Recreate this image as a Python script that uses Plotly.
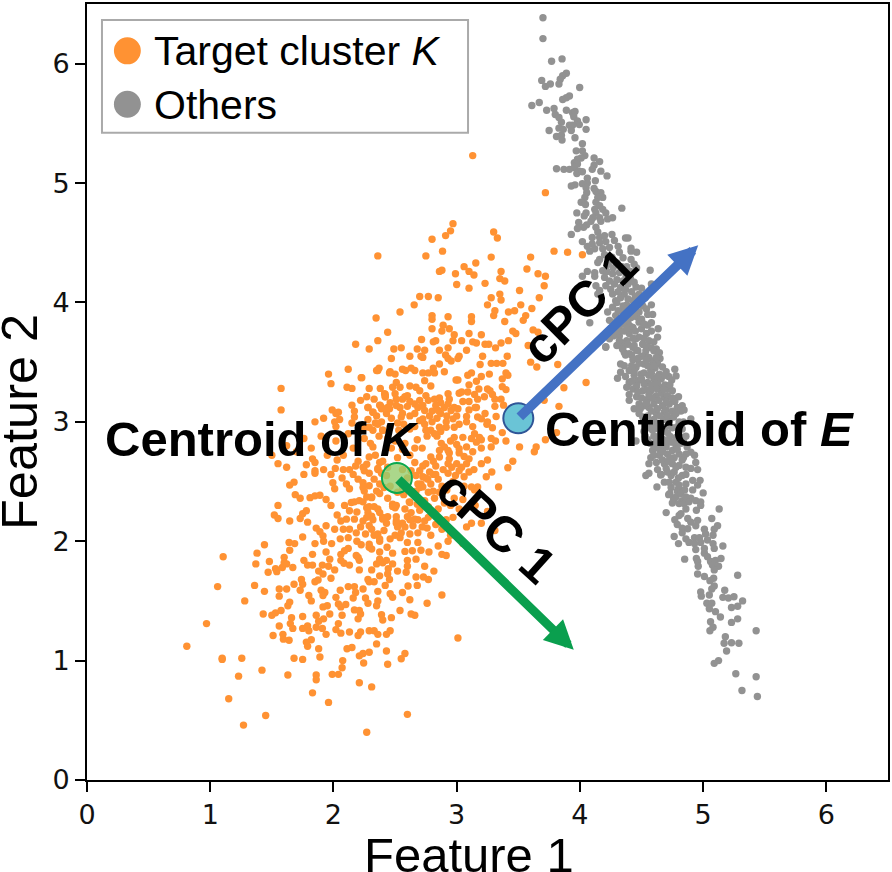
import plotly.graph_objects as go

# Scatter readings, grouped by the part of the plane they sit in: (feature 1, feature 2)
target_low = [
    (.81,1.12),(.97,1.31),(1.06,1.62),(1.105,1.87),(1.097,1.02),(1.097,1.01),(1.256,1.02),(1.23,.87),(1.15,.68),(1.27,.46),
    (1.45,.54),(1.42,.92),(1.28,1.5),(1.36,1.63),(1.44,1.58),(1.37,1.81),(1.38,1.9),(1.44,1.97),(1.47,1.74),(1.48,1.83),
    (1.43,1.39),(1.5,1.38),(1.53,1.4),(1.575,1.42),(1.56,1.29),(1.51,1.21),(1.59,1.22),(1.594,1.18),(1.64,1.17),(1.63,.88),
    (1.68,1.02),(1.75,1.01),(1.86,.88),(1.86,.84),(1.83,.73),(1.96,.65),(2.27,.4),(2.6,.55),(2.21,.815),(2.31,.78),
    (1.99,.885),(2.04,.885),(2.07,.94),(2.075,1.0),(1.89,1.03),(1.88,1.1),(1.78,1.155),(1.79,1.12),(1.82,1.175),(2.11,1.1),
    (2.15,1.11),(2.21,1.04),(2.24,1.06),(2.29,1.07),(2.245,.98),(2.35,1.14),(2.43,1.08),(2.44,.97),(2.55,1.015),(2.58,1.06),
    (1.75,1.27),(1.79,1.29),(1.8,1.25),(1.86,1.28),(1.91,1.27),(1.94,1.22),(2.02,1.26),(2.06,1.23),(2.13,1.24),(2.2,1.21),
    (2.22,1.24),(2.29,1.25),(2.33,1.25),(2.36,1.22),(2.43,1.22),(2.46,1.25),(1.66,1.36),(1.65,1.31),(1.67,1.27),(1.75,1.37),
    (1.86,1.38),(1.88,1.33),(1.92,1.35),(1.97,1.39),(2.04,1.31),(2.07,1.38),(2.2,1.35),(2.22,1.39),(2.17,1.425),(2.21,1.42),
    (2.39,1.385),(2.4,1.34),(2.47,1.36),(2.54,1.42),(2.63,1.39),(2.66,1.38),(3.01,1.19),
]
target_lower_mid = [
    (1.56,1.54),(1.56,1.6),(1.62,1.6),(1.68,1.64),(1.63,1.46),(1.645,1.49),(1.8,1.545),(1.82,1.5),(1.915,1.45),(1.95,1.46),
    (2.02,1.53),(2.04,1.475),(2.06,1.45),(2.1,1.47),(2.16,1.525),(2.26,1.525),(2.28,1.48),(2.36,1.58),(2.36,1.5),(2.35,1.46),
    (2.46,1.56),(2.48,1.53),(2.56,1.57),(2.62,1.51),(2.76,1.48),(2.88,1.55),(1.74,1.68),(1.75,1.64),(1.73,1.59),(1.85,1.66),
    (1.875,1.675),(1.9,1.59),(1.93,1.57),(1.915,1.545),(2.055,1.59),(2.12,1.62),(2.17,1.62),(2.18,1.57),(2.24,1.6),(2.28,1.68),
    (2.29,1.66),(2.33,1.66),(2.42,1.63),(2.455,1.68),(2.605,1.625),(2.68,1.63),(2.73,1.7),(2.77,1.68),(1.53,1.77),(1.54,1.745),
    (1.585,1.78),(1.6,1.82),(1.62,1.81),(1.67,1.78),(1.76,1.84),(1.79,1.8),(1.83,1.8),(1.91,1.8),(1.88,1.75),(1.915,1.725),
    (1.96,1.79),(1.98,1.69),(2.01,1.76),(2.085,1.815),(2.13,1.8),(2.21,1.76),(2.21,1.84),(2.31,1.76),(2.375,1.71),(2.35,1.81),
    (2.4,1.82),(2.445,1.77),(2.48,1.81),(2.44,1.725),(2.52,1.75),(2.6,1.79),(2.59,1.74),(2.67,1.7),(2.74,1.79),(2.815,1.75),
    (1.6,1.865),(1.645,1.925),(1.83,1.89),(1.94,1.91),(1.97,1.85),(2.06,1.89),(2.12,1.94),(2.06,1.84),(2.09,1.92),(2.185,1.88),
    (2.2,1.865),(2.29,1.95),(2.31,1.935),(2.375,1.91),(2.435,1.95),(2.48,1.9),(2.375,1.85),(2.43,1.84),(2.58,1.915),(2.64,1.92),
    (2.71,1.925),(2.775,1.91),(2.67,1.85),(2.6,1.84),(2.88,1.89),(2.915,1.88),(1.64,1.99),(1.685,1.98),(1.75,2.035),(1.85,1.98),
    (1.92,2.0),(1.985,1.98),(2.055,2.02),(2.12,2.03),(2.19,2.0),(2.225,1.97),(2.29,1.975),(2.375,2.0),(2.54,2.03),(2.6,1.99),
    (2.685,1.99),(2.85,1.96),(2.93,2.0),(2.95,2.05),(3.05,1.98),
]
target_core = [
    (1.86,2.11),(1.89,2.08),(1.915,2.045),(1.94,2.13),(2.01,2.1),(2.08,2.1),(2.13,2.1),(2.185,2.07),(2.24,2.17),(2.29,2.13),
    (2.31,2.1),(2.36,2.06),(2.375,2.02),(2.5,2.05),(2.52,2.12),(2.55,2.07),(2.62,2.06),(2.645,2.13),(2.685,2.07),(2.76,2.11),
    (2.79,2.05),(1.52,2.22),(1.55,2.19),(1.645,2.17),(1.73,2.19),(1.75,2.23),(1.78,2.255),(1.79,2.16),(1.55,2.3),(1.98,2.3),
    (2.09,2.3),(2.13,2.255),(2.19,2.245),(2.105,2.185),(2.17,2.185),(2.27,2.28),(2.28,2.24),(2.31,2.21),(2.36,2.27),(2.375,2.24),
    (2.4,2.185),(2.44,2.205),(2.5,2.28),(2.51,2.205),(2.51,2.17),(2.58,2.27),(2.6,2.205),(2.66,2.185),(2.74,2.17),(2.83,2.14),
    (1.69,2.39),(1.73,2.36),(1.81,2.365),(1.85,2.38),(1.89,2.385),(1.94,2.35),(2.145,2.325),(2.17,2.33),(2.21,2.34),(2.24,2.33),
    (2.31,2.365),(2.48,2.31),(2.62,2.325),(1.645,2.47),(1.68,2.495),(1.76,2.56),(1.85,2.57),(1.995,2.49),(2.01,2.44),(2.105,2.48),
    (2.13,2.44),(2.16,2.56),(2.24,2.49),(2.25,2.42),(2.29,2.465),(2.35,2.42),(2.375,2.48),(2.67,2.42),(2.71,2.48),(2.81,2.42),
    (2.86,2.41),(2.75,2.53),(2.81,2.56),(1.83,2.69),(1.85,2.66),(1.85,2.59),(2.015,2.61),(2.08,2.6),(2.24,2.62),(2.27,2.645),
    (2.375,2.66),(2.36,2.6),(2.66,2.66),(2.725,2.63),(2.81,2.67),(2.83,2.63),(2.83,2.56),(1.62,2.8),(1.7,2.75),(1.76,2.86),
    (1.82,2.78),(1.9,2.88),(1.95,2.72),(2.02,2.84),(2.08,2.72),(2.12,2.9),(2.16,2.78),(2.2,2.67),(2.3,2.82),(2.34,2.72),
    (2.44,2.86),(2.47,2.78),(2.52,2.7),(2.58,2.82),(2.62,2.72),(2.68,2.85),(2.72,2.78),(1.5,2.72),(1.55,2.65),(1.62,2.62),
    (2.29,2.29),(2.33,2.29),(2.4,2.2),(2.48,2.29),(2.51,2.3),(2.56,2.15),(2.51,2.15),(2.43,2.15),(2.32,2.18),(2.27,2.2),
    (2.62,2.18),(2.685,2.18),(2.77,2.2),(2.77,2.29),(2.85,2.27),(2.915,2.18),(2.97,2.2),(3.08,2.12),(3.12,2.15),(3.31,2.09),
    (2.24,2.45),(2.27,2.37),(2.31,2.37),(2.375,2.4),(2.36,2.61),(2.29,2.705),(2.32,2.79),(2.25,2.59),(2.725,2.455),(2.79,2.48),
    (2.85,2.52),(2.645,2.4),(2.615,2.33),(2.56,2.455),(2.67,2.55),(2.7,2.59),(2.765,2.52),(3.2,2.65),(3.25,2.68),(3.455,2.67),
    (3.415,2.615),(3.285,2.58),(3.24,2.54),(3.34,2.455),(3.17,2.455),(3.145,2.43),(3.12,2.455),(3.05,2.35),(3.15,2.3),(3.25,2.25),
    (3.2,2.15),(2.95,2.3),
]
target_core_extra = [
    (2.03,2.22),(2.06,2.17),(2.22,2.12),(2.26,2.06),(2.33,2.05),(2.41,2.09),(2.46,2.02),(2.58,2.12),(2.63,2.24),(2.7,2.26),
    (2.72,2.12),(2.8,2.23),(2.88,2.1),(2.9,2.32),(2.98,2.36),(3.02,2.27),(2.82,2.36),(2.74,2.34),(2.68,2.31),(2.57,2.39),
    (2.52,2.41),(2.44,2.36),(2.41,2.45),(2.46,2.46),(2.43,2.55),(2.39,2.57),(2.33,2.52),(2.29,2.57),(2.2,2.52),(2.13,2.6),
    (2.18,2.63),(2.07,2.53),(2.03,2.68),(1.92,2.6),(1.98,2.56),(1.78,2.64),(2.4,2.67),(2.44,2.62),(2.56,2.6),(2.6,2.53),
    (2.63,2.59),(2.7,2.45),(2.77,2.41),(2.88,2.46),(2.92,2.43),(2.97,2.5),(2.93,2.57),(2.89,2.6),(2.96,2.62),(3.06,2.54),
    (3.1,2.58),(3.14,2.6),(2.99,2.55),(3.06,2.46),(2.94,2.74),(3.0,2.81),(3.08,2.79),(3.13,2.75),(3.2,2.78),(3.05,2.87),
    (2.95,2.84),(2.84,2.88),(2.76,2.88),(2.66,2.78),(2.56,2.77),(2.5,2.84),(2.37,2.88),(2.25,2.86),(2.22,2.93),(2.46,2.96),
    (2.53,2.93),(2.57,2.98),(2.66,2.96),(2.7,3.01),(2.8,3.0),(2.84,3.03),(2.92,3.05),(3.0,3.05),(2.47,3.03),(2.43,3.07),
    (2.35,3.05),(2.28,3.02),(2.6,3.13),(2.7,3.18),(2.62,3.17),(2.46,3.16),(2.56,3.19),(2.22,3.18),(2.27,3.21),(2.33,3.19),
    (2.87,3.16),(3.1,3.1),(3.1,3.17),(2.8,3.09),(2.75,2.93),(2.87,2.92),(2.52,2.99),(2.39,3.0),(3.25,3.0),(3.13,2.96),
]
target_upper_mid = [
    (2.875,2.82),(2.9,2.79),(2.86,2.76),(2.93,2.76),(3.02,2.775),(3.02,2.74),(3.06,2.71),(3.1,2.69),(3.08,2.65),(3.04,2.62),
    (3.0,2.65),(3.02,2.59),(2.94,2.69),(2.93,2.65),(2.86,2.705),(2.79,2.705),(2.75,2.65),(2.78,2.58),(2.725,2.54),(2.685,2.48),
    (3.12,2.86),(3.145,2.9),(3.185,2.87),(3.2,2.85),(3.16,2.83),(3.28,2.86),(3.315,2.84),(3.28,2.79),(3.4,2.84),(3.51,2.79),
    (3.645,2.79),(3.63,2.75),(3.72,2.85),(2.4,2.93),(2.29,2.955),(2.25,2.955),(2.62,2.94),(2.74,2.98),(2.79,2.93),(2.86,2.955),
    (2.82,2.9),(2.915,2.955),(2.98,2.87),(3.17,3.04),(3.2,3.025),(3.23,3.07),(3.245,2.98),(3.29,2.95),(3.32,3.045),(3.37,2.91),
    (3.81,2.91),(2.78,3.05),(2.725,3.025),(2.66,3.07),(2.62,3.05),(2.55,3.04),(2.87,3.07),(2.915,3.0),(2.97,3.025),(3.08,3.045),
    (3.08,3.0),(3.02,2.98),(2.98,2.955),(2.28,3.12),(2.38,3.137),(2.32,3.08),(2.39,3.11),(2.54,3.12),(2.51,3.137),(2.455,3.11),
    (2.56,3.07),(2.66,3.15),(2.685,3.12),(2.725,3.137),(2.74,3.095),(2.83,3.137),(2.85,3.095),(2.9,3.12),(2.93,3.15),(2.955,3.095),
    (2.98,3.12),(3.01,3.11),(3.16,3.12),(3.15,3.12),(3.31,3.13),(3.38,3.14),(3.71,3.18),(3.83,3.13),(2.415,3.235),(2.42,3.21),
    (2.5,3.235),(2.51,3.19),(2.58,3.21),(2.6,3.22),(2.75,3.22),(2.77,3.18),(2.86,3.2),(2.82,3.19),(2.93,3.235),(2.94,3.19),
    (3.02,3.24),(3.04,3.25),(3.09,3.25),(3.145,3.23),(3.29,3.23),(3.31,3.19),(3.36,3.19),(3.05,3.17),(3.17,3.19),(3.225,3.21),
    (2.48,3.29),(2.54,3.29),(2.62,3.3),(2.67,3.29),(2.7,3.26),(3.37,3.295),(3.4,3.27),(3.18,3.275),(3.25,3.275),(3.27,3.26),
    (3.87,3.285),(2.51,3.33),(2.74,3.345),(2.79,3.3),(3.1,3.31),(4.05,3.33),(2.225,3.37),(2.455,3.41),(2.5,3.4),
]
target_upper = [
    (2.36,4.39),(2.346,3.87),(2.44,3.75),(2.36,3.68),(2.18,3.65),(2.29,3.61),(2.47,3.53),(2.36,3.43),(2.37,3.45),(2.12,3.44),
    (2.46,3.42),(1.96,3.4),(1.98,3.32),(2.23,3.37),(2.11,3.29),(2.15,3.28),(2.29,3.28),(2.38,3.28),(1.575,3.28),(1.575,3.1),
    (2.42,3.23),(2.42,3.21),(2.15,3.14),(2.17,3.09),(1.99,3.1),(2.02,3.07),(2.04,3.08),(2.28,3.12),(2.32,3.08),(2.375,3.14),
    (2.39,3.12),(2.44,3.12),(2.17,3.04),(1.92,3.03),(1.85,3.0),(2.01,3.0),(2.05,3.02),(2.15,2.99),(2.34,2.99),(2.36,2.98),
    (2.4,2.93),(2.32,2.93),(2.02,2.96),
    (2.91,4.56),(3.3,4.59),(3.33,4.54),(2.75,4.39),(2.885,4.43),(3.28,4.38),(3.6,4.38),(3.79,4.43),(3.9,4.42),(4.02,4.4),
    (3.155,4.33),(3.06,4.3),(3.57,4.28),(3.36,4.26),(3.66,4.24),(3.72,4.22),(2.86,4.26),(2.88,4.27),(2.99,4.24),(3.1,4.26),
    (3.14,4.23),(3.35,4.2),(3.39,4.18),(3.0,4.15),(3.23,4.16),(3.1,4.12),(3.71,4.14),(3.51,4.1),(3.35,4.07),(3.28,4.04),
    (3.36,4.02),(3.67,4.04),(2.7,4.05),(2.77,4.05),(2.85,4.04),(2.655,3.98),(3.25,3.98),(3.52,3.98),(3.61,3.95),(2.54,3.92),
    (3.31,3.93),(3.3,3.89),(3.42,3.92),(3.47,3.93),(3.56,3.89),(3.54,3.85),(3.39,3.84),(2.8,3.89),(2.8,3.86),(2.93,3.88),
    (3.12,3.88),(3.12,3.84),(2.8,3.78),(2.89,3.81),(2.88,3.76),(2.94,3.78),(2.98,3.73),(3.1,3.74),(3.2,3.73),(3.455,3.76),
    (3.48,3.74),(3.62,3.77),(3.66,3.75),(2.715,3.69),(2.83,3.68),(2.81,3.67),(2.97,3.68),(3.04,3.68),(3.13,3.67),(3.16,3.66),
    (3.23,3.65),(3.26,3.65),(3.42,3.68),(3.36,3.66),(3.58,3.64),(2.49,3.61),(2.55,3.62),(2.68,3.61),(2.74,3.6),(2.86,3.6),
    (2.93,3.62),(3.08,3.6),(3.315,3.62),(2.62,3.55),(2.71,3.55),(2.725,3.54),(2.91,3.56),(2.93,3.53),(2.955,3.51),(3.02,3.55),
    (3.01,3.53),(3.21,3.55),(3.41,3.55),(2.86,3.485),(3.19,3.48),(3.28,3.49),(3.325,3.49),(3.375,3.49),(3.6,3.5),(3.65,3.46),
    (3.82,3.48),(2.35,3.43),(2.56,3.44),(2.585,3.43),(2.63,3.45),(2.66,3.43),(2.81,3.45),(2.82,3.41),(2.9,3.42),(2.725,3.41),
    (2.77,3.41),(3.12,3.41),(3.09,3.39),(3.2,3.38),(3.16,3.34),(3.265,3.4),(3.4,3.41),(3.415,3.39),(3.37,3.36),(2.995,3.35),
    (3.01,3.35),(3.13,5.23),(3.72,4.92),(2.97,4.66),(2.8,4.53),(2.95,4.6),
]
others_top = [
    (3.7,6.385),(3.7,6.21),(3.77,6.02),(3.855,6.04),(3.89,5.92),(3.86,5.9),(3.84,5.87),(3.83,5.83),(3.69,5.86),(3.72,5.81),
    (3.76,5.83),(3.998,5.8),(3.915,5.73),(3.89,5.715),(3.86,5.7),(3.67,5.675),(3.61,5.65),(3.73,5.61),(3.79,5.625),(3.8,5.575),
    (3.83,5.55),(3.85,5.51),(3.89,5.61),(3.94,5.59),(3.96,5.6),(3.95,5.555),(4.05,5.53),(3.98,5.52),(3.995,5.49),(4.05,5.45),
    (3.915,5.485),(3.94,5.485),(3.93,5.44),(3.75,5.44),(3.83,5.46),(3.865,5.45),(3.81,5.39),(3.85,5.4),(3.855,5.36),(3.96,5.38),
    (4.02,5.33),(3.97,5.27),(4.02,5.27),(4.04,5.23),(4.01,5.21),(3.98,5.2),(3.955,5.17),(3.98,5.16),(3.955,5.13),(3.995,5.1),
    (3.81,5.12),(3.87,5.115),(3.915,5.115),(3.975,5.08),(4.02,5.095),(4.115,5.21),(4.16,5.18),(4.115,5.15),(4.1,5.115),(4.17,5.1),
    (4.22,5.06),(4.125,5.02),(4.06,5.04),(4.06,5.0),(4.02,4.995),(3.96,4.985),(3.93,4.975),(4.05,4.96),(4.055,4.92),(4.115,4.955),
    (4.13,4.93),(4.17,4.92),(4.185,4.88),(4.145,4.88),(4.04,4.88),(4.01,4.84),(4.045,4.82),(4.13,4.84),(4.16,4.81),(4.12,4.78),
    (4.13,4.75),(4.34,4.79),(3.975,4.75),(4.05,4.75),(4.035,4.725),(4.185,4.78),(4.21,4.75),(4.265,4.71),(4.225,4.7),(4.16,4.71),
    (4.105,4.71),(4.09,4.68),(4.17,4.68),(3.99,4.67),(4.055,4.65),(4.03,4.63),(3.98,4.62),(3.93,4.57),(4.13,4.63),(4.145,4.59),
    (4.1,4.545),(4.16,4.545),(4.2,4.56),(4.02,4.51),(4.26,4.57),(4.37,4.54),(4.39,4.54),
]
others_upper_band = [
    (4.06,4.47),(4.1,4.49),(4.16,4.5),(4.21,4.51),(4.28,4.52),(4.31,4.47),(4.08,4.43),(4.12,4.45),(4.185,4.45),(4.24,4.46),
    (4.415,4.455),(4.415,4.43),(4.46,4.42),(4.16,4.36),(4.145,4.335),(4.32,4.42),(4.35,4.375),(4.415,4.36),(4.44,4.32),(4.46,4.29),
    (4.57,4.27),(4.06,4.26),(4.02,4.22),(4.12,4.25),(4.12,4.22),(4.185,4.265),(4.2,4.21),(4.265,4.24),(4.32,4.25),(4.375,4.22),
    (4.13,4.14),(4.16,4.1),(4.145,4.07),(4.21,4.14),(4.28,4.155),(4.33,4.125),(4.39,4.155),(4.455,4.13),(4.58,4.155),(4.265,4.07),
    (4.29,4.015),(4.265,3.96),(4.36,4.07),(4.43,4.015),(4.48,4.07),(4.51,3.97),(4.58,3.98),(4.08,3.83),(4.225,3.92),(4.29,3.89),
    (4.35,3.93),(4.415,3.875),(4.48,3.92),(4.54,3.945),(4.59,3.9),(4.24,3.85),(4.32,3.8),(4.39,3.835),(4.43,3.79),(4.48,3.835),
    (4.55,3.81),(4.635,3.78),(4.58,3.83),(4.24,3.695),(4.32,3.72),(4.4,3.74),(4.455,3.695),(4.54,3.74),(4.63,3.71),(4.21,3.625),
    (4.35,3.625),(4.43,3.625),(4.51,3.65),(4.62,3.61),(4.3,4.0),(4.38,3.98),(4.46,3.97),(4.34,3.87),(4.46,3.88),(4.36,3.76),
    (4.45,3.76),(4.5,3.78),(4.28,3.77),(4.56,3.68),(4.38,3.68),(4.48,3.71),(4.34,3.66),(4.6,3.67),
]
others_upper_extra = [
    (4.2,4.4),(4.26,4.38),(4.3,4.33),(4.23,4.32),(4.34,4.3),(4.38,4.3),(4.27,4.29),(4.22,4.26),(4.41,4.26),(4.24,4.18),
    (4.3,4.19),(4.35,4.18),(4.41,4.2),(4.44,4.17),(4.25,4.11),(4.31,4.09),(4.37,4.11),(4.42,4.09),(4.5,4.12),(4.33,4.04),
    (4.39,4.03),(4.45,4.05),(4.53,4.04),(4.35,3.97),(4.42,3.95),(4.47,3.99),(4.55,3.9),(4.31,3.93),(4.38,3.88),(4.44,3.9),
    (4.5,3.86),(4.28,3.83),(4.35,3.82),(4.52,3.82),(4.41,3.8),(4.58,3.76),(4.31,3.76),(4.38,3.78),(4.43,3.7),(4.52,3.7),
    (4.27,3.72),(4.58,3.62),(4.55,3.63),(4.3,3.64),(4.46,3.6),(4.36,3.58),(4.53,3.56),(4.65,3.53),(4.42,3.56),
]
others_dense_band = [
    (4.21,3.63),(4.32,3.68),(4.39,3.65),(4.44,3.64),(4.51,3.65),(4.345,3.61),(4.4,3.57),(4.47,3.595),(4.535,3.595),(4.6,3.595),
    (4.645,3.58),(4.33,3.485),(4.33,3.415),(4.305,3.365),(4.4,3.43),(4.455,3.455),(4.52,3.485),(4.59,3.51),(4.63,3.485),(4.575,3.43),
    (4.495,3.4),(4.77,3.44),(4.7,3.42),(4.78,3.385),(4.745,3.35),(4.645,3.4),(4.6,3.36),(4.55,3.33),(4.47,3.345),(4.4,3.33),
    (4.43,3.275),(4.4,3.23),(4.4,3.18),(4.51,3.26),(4.575,3.26),(4.645,3.29),(4.71,3.275),(4.75,3.26),(4.8,3.21),(4.685,3.205),
    (4.62,3.22),(4.55,3.19),(4.44,3.11),(4.48,3.15),(4.52,3.135),(4.6,3.15),(4.67,3.135),(4.725,3.15),(4.79,3.12),(4.83,3.135),
    (4.845,3.1),(4.82,3.09),(4.48,3.07),(4.55,3.05),(4.62,3.07),(4.685,3.08),(4.9,3.025),(4.575,2.997),(4.645,2.98),(4.725,3.01),
    (4.805,3.0),(4.455,2.84),(4.59,2.93),(4.645,2.885),(4.71,2.91),(4.78,2.87),(4.87,2.79),(4.9,2.746),(4.86,2.73),(4.94,2.66),
    (4.955,2.6),(4.93,2.72),(4.59,2.76),(4.645,2.77),(4.7,2.79),(4.75,2.76),(4.805,2.73),(4.575,2.7),(4.645,2.72),(4.71,2.73),
    (4.765,2.7),(4.56,2.65),(4.62,2.66),(4.685,2.65),(4.75,2.65),(4.805,2.635),(4.86,2.62),(4.9,2.61),(4.37,3.56),(4.43,3.52),
    (4.5,3.55),(4.56,3.54),(4.62,3.54),(4.36,3.47),(4.42,3.47),(4.48,3.49),(4.55,3.47),(4.61,3.45),(4.67,3.46),(4.37,3.38),
    (4.44,3.39),(4.52,3.41),(4.56,3.39),(4.66,3.36),(4.72,3.38),(4.38,3.29),(4.46,3.3),(4.52,3.32),(4.58,3.31),(4.63,3.33),
    (4.69,3.31),(4.46,3.21),(4.5,3.2),(4.59,3.2),(4.66,3.24),(4.71,3.22),(4.77,3.17),(4.49,3.11),(4.56,3.12),(4.63,3.11),
    (4.7,3.1),(4.75,3.09),(4.53,3.0),(4.6,3.02),(4.68,3.02),(4.76,3.04),(4.52,2.92),(4.6,2.97),(4.68,2.95),(4.75,2.95),
    (4.83,2.94),(4.86,2.88),(4.55,2.85),(4.62,2.84),(4.68,2.85),(4.73,2.83),(4.82,2.82),(4.6,2.8),(4.67,2.81),(4.78,2.8),
]
others_dense_extra = [
    (4.47,3.53),(4.54,3.52),(4.6,3.47),(4.44,3.42),(4.5,3.36),(4.42,3.34),(4.58,3.41),(4.63,3.38),(4.69,3.39),(4.54,3.27),
    (4.47,3.25),(4.62,3.28),(4.68,3.27),(4.73,3.31),(4.56,3.23),(4.64,3.18),(4.7,3.17),(4.75,3.2),(4.54,3.16),(4.58,3.09),
    (4.65,3.05),(4.71,3.05),(4.78,3.07),(4.51,3.04),(4.56,2.95),(4.64,2.94),(4.72,2.97),(4.79,2.96),(4.84,3.0),(4.53,2.88),
    (4.6,2.88),(4.66,2.91),(4.73,2.88),(4.81,2.88),(4.57,2.82),(4.65,2.82),(4.7,2.84),(4.76,2.83),(4.84,2.84),(4.6,2.72),
    (4.67,2.75),(4.73,2.7),(4.79,2.77),(4.84,2.7),(4.67,2.68),(4.72,2.67),(4.78,2.62),(4.63,2.6),(4.7,2.61),(4.83,2.68),
    (4.66,2.56),(4.74,2.55),(4.8,2.53),(4.74,2.45),(4.8,2.44),(4.85,2.43),(4.76,2.35),(4.83,2.34),(4.9,2.36),(4.79,2.42),
]
others_tail = [
    (4.535,2.55),(4.56,2.57),(4.655,2.555),(4.71,2.58),(4.765,2.58),(4.83,2.55),(4.86,2.56),(4.915,2.51),(4.975,2.51),(4.955,2.47),
    (4.625,2.455),(4.685,2.495),(4.725,2.495),(4.78,2.495),(4.805,2.47),(4.86,2.48),(4.915,2.43),(5.0,2.405),(4.73,2.4),(4.72,2.39),
    (4.78,2.37),(4.82,2.4),(4.86,2.37),(4.75,2.32),(4.805,2.315),(4.845,2.315),(4.885,2.33),(4.94,2.34),(4.98,2.33),(4.98,2.3),
    (4.945,2.26),(5.13,2.27),(4.7,2.24),(4.82,2.23),(4.805,2.215),(4.77,2.18),(4.86,2.27),(5.07,2.19),(4.875,2.19),(4.9,2.16),
    (4.955,2.175),(4.94,2.13),(4.79,2.14),(4.83,2.11),(4.875,2.105),(4.83,2.07),(4.765,2.04),(4.8,1.98),(5.117,2.13),(5.09,2.1),
    (5.01,2.1),(5.02,2.06),(5.08,2.05),(4.86,2.02),(4.885,1.99),(4.93,2.03),(4.97,2.03),(4.93,1.98),(4.94,1.93),(4.98,1.99),
    (5.035,2.01),(5.08,1.98),(5.09,1.94),(5.16,1.96),(5.01,1.94),(5.01,1.9),(5.035,1.87),(4.945,1.855),(4.955,1.83),(4.85,1.85),
    (4.96,1.79),(5.06,1.83),(5.1,1.84),(5.145,1.855),(5.075,1.8),(5.125,1.79),(5.09,1.76),(4.955,1.725),(5.01,1.705),(5.28,1.715),
    (5.085,1.69),(5.055,1.67),(5.09,1.625),(5.07,1.6),(5.05,1.55),(4.98,1.575),(4.985,1.54),(5.175,1.59),(5.16,1.53),(5.205,1.525),
    (5.25,1.535),(5.32,1.5),(5.03,1.48),(5.07,1.48),(5.05,1.435),(5.1,1.41),(5.14,1.365),(5.23,1.445),(5.28,1.455),(5.28,1.35),
    (5.23,1.32),(5.06,1.325),(5.08,1.28),(5.055,1.25),(5.43,1.25),(5.18,1.2),(5.17,1.145),(5.23,1.15),(5.29,1.145),(5.19,1.08),
    (5.125,1.0),(5.09,.977),(5.265,.89),(5.43,.865),(5.315,.75),(5.44,.7),
]

centroid_k = (2.515, 2.53)
centroid_e = (3.5, 3.03)
cpc_k_tip = (3.95, 1.09)
cpc_e_tip = (4.96, 4.48)

x_ticks = [0, 1, 2, 3, 4, 5, 6]
y_ticks = [0, 1, 2, 3, 4, 5, 6]

ORANGE = "#FF9233"
GRAY = "#929292"
TEXT_FONT = "Liberation Sans"

target = target_low + target_lower_mid + target_core + target_core_extra + target_upper_mid + target_upper
others = others_top + others_upper_band + others_upper_extra + others_dense_band + others_dense_extra + others_tail


def scatter(points, color, name):
    xs, ys = zip(*points)
    return go.Scatter(x=xs, y=ys, mode="markers", name=name, showlegend=False,
                      marker=dict(size=7.4, color=color, line=dict(width=0)))


def centroid(point, fill, edge, name):
    return go.Scatter(x=[point[0]], y=[point[1]], mode="markers", name=name, showlegend=False,
                      marker=dict(size=30, color=fill, line=dict(width=2, color=edge)))


def arrow(start, tip, color, width):
    return dict(x=tip[0], y=tip[1], ax=start[0], ay=start[1], xref="x", yref="y", axref="x", ayref="y",
                showarrow=True, arrowhead=2, arrowsize=5.8 / width, arrowwidth=width, arrowcolor=color,
                standoff=0, startstandoff=0, text="")


def label(text, x, y, size=49, angle=0):
    return dict(x=x, y=y, xref="x", yref="y", text=text, showarrow=False, textangle=angle,
                xanchor="center", yanchor="middle",
                font=dict(family=TEXT_FONT, size=size, color="black"))


def paper_text(text, x, y, size, angle=0, anchor="center"):
    return dict(x=x, y=y, xref="paper", yref="paper", text=text, showarrow=False, textangle=angle,
                xanchor=anchor, yanchor="middle",
                font=dict(family=TEXT_FONT, size=size, color="black"))


fig = go.Figure([
    scatter(others, GRAY, "Others"),
    scatter(target, ORANGE, "Target cluster K"),
    centroid(centroid_k, "rgba(150,205,110,0.8)", "#0BA84F", "Centroid of K"),
    centroid(centroid_e, "rgba(90,190,210,0.9)", "#2F5597", "Centroid of E"),
])

axis = dict(range=[0, 6.5], showgrid=False, zeroline=False, showline=True, mirror=True,
            linecolor="black", linewidth=2, ticks="outside", ticklen=10, tickwidth=2, tickcolor="black",
            tickfont=dict(family="DejaVu Sans", size=27, color="#111111"))

fig.update_layout(
    width=892, height=872, margin=dict(l=87, r=2, t=2, b=92, pad=0),
    paper_bgcolor="white", plot_bgcolor="white", showlegend=False,
    xaxis=dict(axis, tickvals=x_ticks),
    yaxis=dict(axis, tickvals=y_ticks),
    shapes=[
        # Legend frame and swatches
        dict(type="rect", xref="paper", yref="paper", x0=.0187, x1=.4757, y0=.8342, y1=.9795,
             line=dict(color="#AAAAAA", width=2), fillcolor="white", layer="above"),
        dict(type="circle", xref="paper", yref="paper", x0=.0336, x1=.0672, y0=.9222, y1=.9570,
             line=dict(width=0), fillcolor=ORANGE, layer="above"),
        dict(type="circle", xref="paper", yref="paper", x0=.0336, x1=.0672, y0=.8535, y1=.8882,
             line=dict(width=0), fillcolor=GRAY, layer="above"),
    ],
    annotations=[
        arrow(centroid_k, cpc_k_tip, "#0A9F4E", 9),
        arrow(centroid_e, cpc_e_tip, "#4472C4", 9.5),
        label("<b>cPC 1</b>", 4.0, 3.97, size=50, angle=-45),
        label("<b>cPC 1</b>", 3.32, 2.12, size=50, angle=42),
        label("<b>Centroid of <i>K</i></b>", 1.418, 2.86),
        label("<b>Centroid of <i>E</i></b>", 4.97, 2.94),
        paper_text("Target cluster <i>K</i>", .081, .9396, 41, anchor="left"),
        paper_text("Others", .081, .870, 41, anchor="left"),
        paper_text("Feature 1", .477, -.0964, 49),
        paper_text("Feature 2", -.0835, .4615, 50.5, angle=-90),
    ],
)

fig.write_html("out.html")
